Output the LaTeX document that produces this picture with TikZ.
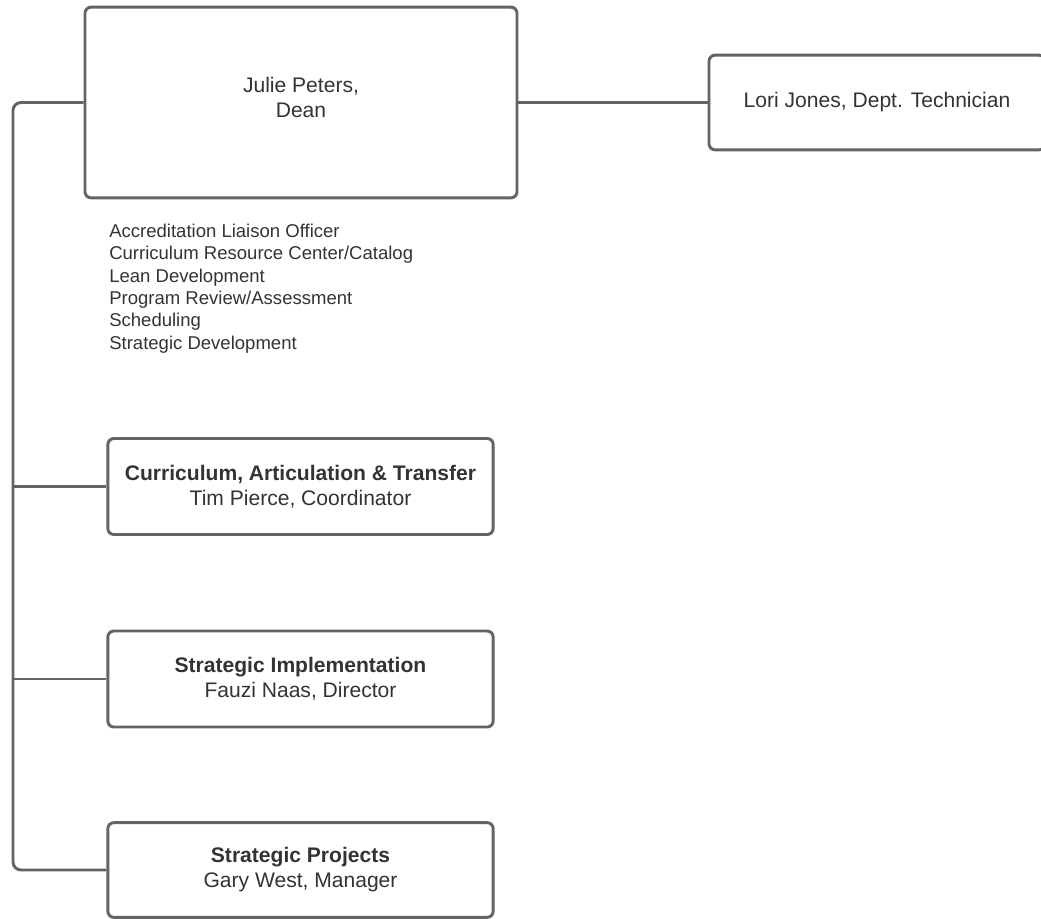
\documentclass[tikz,border=0pt]{standalone}
\usepackage{fontspec}
\setmainfont{Liberation Sans}
\usetikzlibrary{positioning}
\definecolor{linegray}{HTML}{646464}
\definecolor{textgray}{HTML}{333333}
\begin{document}
\begin{tikzpicture}[x=0.75pt,y=-0.75pt,
  box/.style={draw=linegray,line width=2.2pt,rounded corners=4.5pt,fill=white,
    align=center,text=textgray,font=\fontsize{15.8}{18.8}\selectfont},
  link/.style={draw=linegray,line width=2.2pt}]
\useasboundingbox (0,0) rectangle (1041,918);
% boxes
\node[box,minimum width=324pt,minimum height=143pt] (dean) at (301,102.5) {Julie Peters,\\Dean\\[-11pt]};
\node[box,minimum width=252pt,minimum height=71pt] (tech) at (877,102.5) {Lori Jones, Dept. Technician};
\node[box,minimum width=289pt,minimum height=72pt] (cat) at (300.5,486.5) {\textbf{Curriculum, Articulation \& Transfer}\\Tim Pierce, Coordinator};
\node[box,minimum width=289pt,minimum height=72pt] (impl) at (300.5,679) {\textbf{Strategic Implementation}\\Fauzi Naas, Director};
\node[box,minimum width=289pt,minimum height=71pt] (proj) at (300.5,870) {\textbf{Strategic Projects}\\Gary West, Manager};
% duties under the dean
\node[anchor=north west,inner sep=0pt,align=left,text=textgray,
  font=\fontsize{13.9}{16.7}\selectfont] (duties) at (109,224)
  {Accreditation Liaison Officer\\Curriculum Resource Center/Catalog\\Lean Development\\
   Program Review/Assessment\\Scheduling\\Strategic Development};
% connectors
\coordinate (bustop) at (13,102.5);
\coordinate (busbot) at (13,870);
\coordinate (tapcat) at (bustop |- cat.west);
\coordinate (tapimpl) at (bustop |- impl.west);
\draw[link,line width=1.6pt] (dean.east) -- (tech.west);
\draw[link,rounded corners=6pt] (dean.west) -- (bustop) -- (busbot) -- (proj.west);
\draw[link] (tapcat) -- (cat.west);
\draw[link] (tapimpl) -- (impl.west);
\end{tikzpicture}
\end{document}
